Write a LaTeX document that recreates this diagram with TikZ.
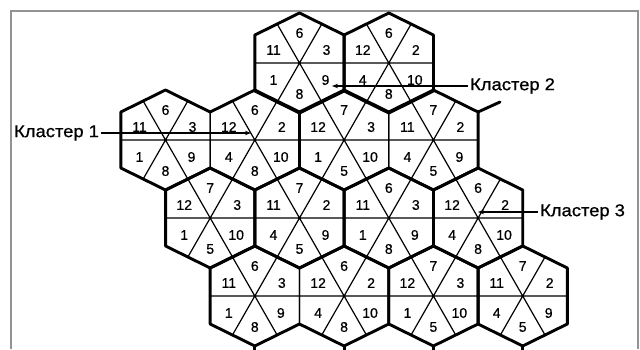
\documentclass[tikz,border=0pt]{standalone}
\usepackage{fontspec}
\setmainfont{Liberation Sans}
\newfontfamily\numfont[FakeBold=0.6]{Liberation Sans}
\newfontfamily\lblfont[FakeBold=0.8, FakeStretch=1.08]{Liberation Sans}
\usetikzlibrary{arrows.meta}
\newcommand\hexcell[9]{%
  \coordinate (#1) at (#2,#3);
  \coordinate (#1-vt) at (#2,#3-50);
  \coordinate (#1-vur) at (#2+44.65,#3-28);
  \coordinate (#1-vlr) at (#2+44.65,#3+28);
  \coordinate (#1-vb) at (#2,#3+50);
  \coordinate (#1-vll) at (#2-44.65,#3+28);
  \coordinate (#1-vul) at (#2-44.65,#3-28);
  \coordinate (#1-ml) at (#2-44.65,#3);
  \coordinate (#1-mr) at (#2+44.65,#3);
  \coordinate (#1-mtl) at (#2-22.33,#3-39);
  \coordinate (#1-mtr) at (#2+22.33,#3-39);
  \coordinate (#1-mbl) at (#2-22.33,#3+39);
  \coordinate (#1-mbr) at (#2+22.33,#3+39);
  \draw[thinline] (#1-ml) -- (#1-mr) (#1-mtl) -- (#1-mbr) (#1-mtr) -- (#1-mbl);
  \draw[thinline] (#1-vt) -- (#1-vur) -- (#1-vlr) -- (#1-vb) -- (#1-vll) -- (#1-vul) -- cycle;
  \node[num] (#1-n1) at (#2-26,#3-13) {#4};
  \node[num] (#1-n2) at (#2,#3-30) {#5};
  \node[num] (#1-n3) at (#2+27,#3-13) {#6};
  \node[num] (#1-n4) at (#2-26,#3+17) {#7};
  \node[num] (#1-n5) at (#2,#3+31) {#8};
  \node[num] (#1-n6) at (#2+26,#3+17) {#9};
}
\newcommand\hexfull[1]{\draw[thickedge] (#1-vt) -- (#1-vur) -- (#1-vlr) -- (#1-vb) -- (#1-vll) -- (#1-vul) -- cycle;}
\newcommand\hexnoright[1]{\draw[thickedge] (#1-vlr) -- (#1-vb) -- (#1-vll) -- (#1-vul) -- (#1-vt) -- (#1-vur);}
\newcommand\hexnoleft[1]{\draw[thickedge] (#1-vll) -- (#1-vb) -- (#1-vlr) -- (#1-vur) -- (#1-vt) -- (#1-vul);}
\begin{document}
\begin{tikzpicture}[x=1pt,y=-1pt,
  thinline/.style={line width=1.2pt, black},
  thickedge/.style={line width=2.9pt, black, line cap=round, line join=round},
  num/.style={font=\numfont\fontsize{14}{14}\selectfont, inner sep=0pt},
  lbl/.style={font=\lblfont\fontsize{17}{17}\selectfont, inner sep=2pt},
  pointer/.style={line width=1.2pt, -{Stealth[length=6pt,width=4.5pt]}},
  framestyle/.style={line width=1.5pt, gray!85}]
\useasboundingbox (0,0) rectangle (640,349);
\fill[white] (0,0) rectangle (640,349);
% frame
\coordinate (f1) at (11,349);
\coordinate (f2) at (11,11);
\coordinate (f3) at (638,11);
\coordinate (f4) at (638,349);
\draw[framestyle] (f1) -- (f2) -- (f3) -- (f4);
% cells
\hexcell{h0a}{299.5}{63}{11}{6}{3}{1}{8}{9}
\hexcell{h0b}{388.8}{63}{12}{6}{2}{4}{8}{10}
\hexcell{h1a}{165.5}{140}{11}{6}{3}{1}{8}{9}
\hexcell{h1b}{254.8}{140}{12}{6}{2}{4}{8}{10}
\hexcell{h1c}{344.1}{140}{12}{7}{3}{1}{5}{10}
\hexcell{h1d}{433.4}{140}{11}{7}{2}{4}{5}{9}
\hexcell{h2a}{210.2}{218}{12}{7}{3}{1}{5}{10}
\hexcell{h2b}{299.5}{218}{11}{7}{2}{4}{5}{9}
\hexcell{h2c}{388.8}{218}{11}{6}{3}{1}{8}{9}
\hexcell{h2d}{478.1}{218}{12}{6}{2}{4}{8}{10}
\hexcell{h3a}{254.8}{296}{11}{6}{3}{1}{8}{9}
\hexcell{h3b}{344.1}{296}{12}{6}{2}{4}{8}{10}
\hexcell{h3c}{433.4}{296}{12}{7}{3}{1}{5}{10}
\hexcell{h3d}{522.7}{296}{11}{7}{2}{4}{5}{9}
% thick outlines
\hexfull{h0a}
\hexfull{h0b}
\hexnoright{h1a}
\hexnoleft{h1b}
\hexnoright{h1c}
\hexnoleft{h1d}
\hexfull{h2a}
\hexfull{h2b}
\hexfull{h2c}
\hexfull{h2d}
\hexnoright{h3a}
\hexnoleft{h3b}
\hexfull{h3c}
\hexfull{h3d}
% stub at upper right
\coordinate (stub) at (500,102);
\draw[thickedge] (h1d-vur) -- (stub);
% stubs below the bottom row
\coordinate (s1) at (254.8,352);
\coordinate (s2) at (344.1,352);
\coordinate (s3) at (433.4,352);
\coordinate (s4) at (522.7,352);
\draw[thickedge] (h3a-vb) -- (s1) (h3b-vb) -- (s2) (h3c-vb) -- (s3) (h3d-vb) -- (s4);
% cluster labels
\node[lbl, anchor=west] (k1) at (12,133) {Кластер 1};
\coordinate (k1tip) at (251,133);
\draw[pointer] (k1.east) -- (k1tip);
\node[lbl, anchor=west] (k2) at (468,86) {Кластер 2};
\coordinate (k2tip) at (332,86);
\draw[pointer] (k2.west) -- (k2tip);
\node[lbl, anchor=west] (k3) at (538,212) {Кластер 3};
\coordinate (k3tip) at (478,212);
\draw[pointer] (k3.west) -- (k3tip);
\end{tikzpicture}
\end{document}
